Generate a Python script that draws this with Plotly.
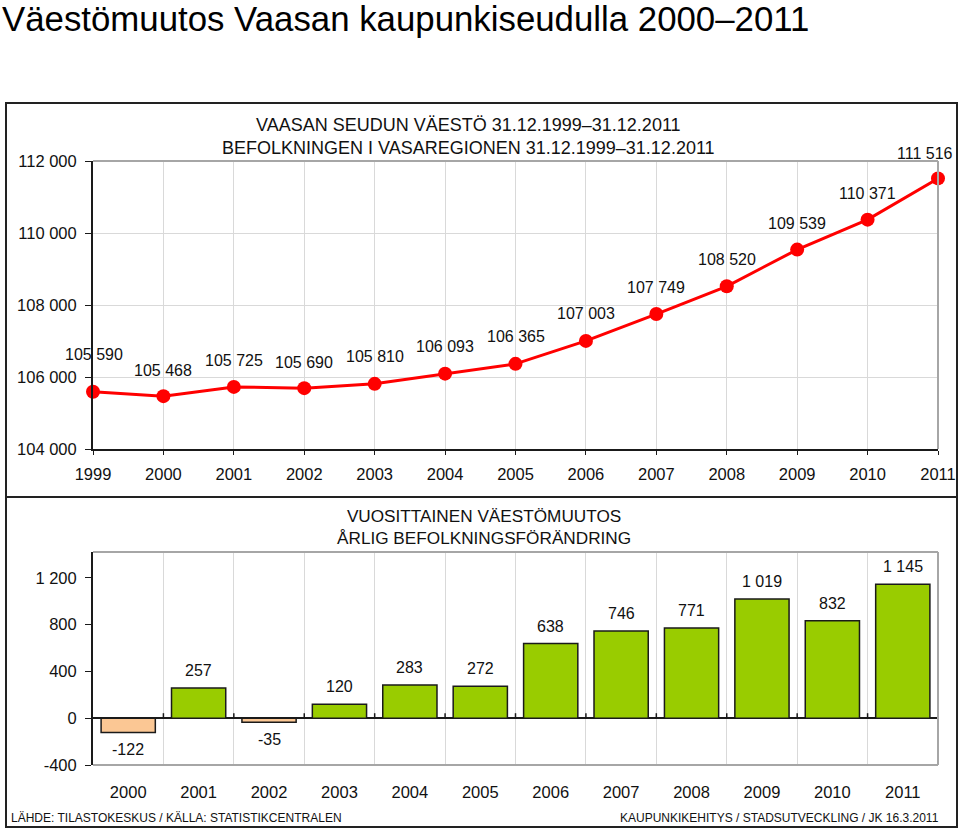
import plotly.graph_objects as go

# ---------------- data ----------------
pop_years = list(range(1999, 2012))
population = [105590, 105468, 105725, 105690, 105810, 106093, 106365,
              107003, 107749, 108520, 109539, 110371, 111516]
pop_labels = ["105 590", "105 468", "105 725", "105 690", "105 810", "106 093", "106 365",
              "107 003", "107 749", "108 520", "109 539", "110 371", "111 516"]

chg_years = list(range(2000, 2012))
change = [-122, 257, -35, 120, 283, 272, 638, 746, 771, 1019, 832, 1145]
chg_labels = ["-122", "257", "-35", "120", "283", "272", "638", "746", "771", "1 019", "832", "1 145"]

pop_ticks = [104000, 106000, 108000, 110000, 112000]
pop_ticktext = ["104 000", "106 000", "108 000", "110 000", "112 000"]
chg_ticks = [-400, 0, 400, 800, 1200]
chg_ticktext = ["-400", "0", "400", "800", "1 200"]

title = "Väestömuutos Vaasan kaupunkiseudulla 2000–2011"
top_title = "VAASAN SEUDUN VÄESTÖ 31.12.1999–31.12.2011<br>BEFOLKNINGEN I VASAREGIONEN 31.12.1999–31.12.2011"
bot_title = "VUOSITTAINEN VÄESTÖMUUTOS<br>ÅRLIG BEFOLKNINGSFÖRÄNDRING"
src_left = "LÄHDE: TILASTOKESKUS / KÄLLA: STATISTIKCENTRALEN"
src_right = "KAUPUNKIKEHITYS / STADSUTVECKLING / JK 16.3.2011"

# ---------------- layout helpers ----------------
W, H = 960, 829
FONT = "Arial, Liberation Sans, sans-serif"
GREEN = "#99CC00"
PEACH = "#FBC794"
GRID = "#D9D9D9"
BORDER = "#A6A6A6"
INK = "#1a1a1a"

def px(xp):
    return xp / W

def py(yp):
    return 1 - yp / H

fig = go.Figure()

# ---- top: population line ----
fig.add_trace(go.Scatter(
    x=pop_years, y=population, mode="lines+markers",
    line=dict(color="#FF0000", width=3),
    marker=dict(color="#FF0000", size=14),
    cliponaxis=False, hoverinfo="x+y", xaxis="x", yaxis="y", showlegend=False))

# ---- bottom: change bars ----
fig.add_trace(go.Bar(
    x=chg_years, y=change, width=0.77,
    marker=dict(color=[GREEN if v >= 0 else PEACH for v in change],
                line=dict(color=INK, width=1.5)),
    xaxis="x2", yaxis="y2", showlegend=False))

bounds = [y + 0.5 for y in chg_years[:-1]]

annotations = []
# population labels
shifts_y = [37, 26, 26, 26, 27, 27, 27, 27, 27, 27, 26, 26, 25]
shifts_x = [1, 0, 0, 0, 0, 0, 0, 0, 0, 0, 0, 0, -13]
for x, y, t, sy, sx in zip(pop_years, population, pop_labels, shifts_y, shifts_x):
    annotations.append(dict(x=x, y=y, xref="x", yref="y", text=t, showarrow=False,
                            yshift=sy, xshift=sx, font=dict(size=16, color="#111", family=FONT)))
# change labels
for x, y, t in zip(chg_years, change, chg_labels):
    annotations.append(dict(x=x, y=y, xref="x2", yref="y2", text=t, showarrow=False,
                            yanchor="bottom" if y >= 0 else "top",
                            yshift=7 if y >= 0 else -7,
                            font=dict(size=16, color="#111", family=FONT)))

annotations += [
    dict(x=0, y=py(18), xref="paper", yref="paper", xanchor="left", yanchor="middle",
         text=title, showarrow=False, font=dict(size=34.8, color="#000", family=FONT)),
    dict(x=px(468), y=py(136), xref="paper", yref="paper", xanchor="center", yanchor="middle",
         text=top_title, showarrow=False, align="center",
         font=dict(size=18, color="#111", family=FONT)),
    dict(x=px(484), y=py(527), xref="paper", yref="paper", xanchor="center", yanchor="middle",
         text=bot_title, showarrow=False, align="center",
         font=dict(size=17.2, color="#111", family=FONT)),
    dict(x=px(9), y=py(818), xref="paper", yref="paper", xanchor="left", yanchor="middle",
         text=src_left, showarrow=False, font=dict(size=12, color="#111", family=FONT)),
    dict(x=px(941), y=py(818), xref="paper", yref="paper", xanchor="right", yanchor="middle",
         text=src_right, showarrow=False, font=dict(size=12, color="#111", family=FONT)),
]

shapes = [
    # outer frame and divider
    dict(type="rect", xref="paper", yref="paper", x0=px(6), x1=px(957), y0=py(827), y1=py(103),
         line=dict(color="#222", width=2)),
    dict(type="line", xref="paper", yref="paper", x0=px(6), x1=px(957), y0=py(497), y1=py(497),
         line=dict(color="#222", width=2)),
    # grey borders of top plot area (top, right)
    dict(type="line", xref="x domain", yref="y domain", x0=0, x1=1, y0=1, y1=1,
         line=dict(color=BORDER, width=2)),
    dict(type="line", xref="x domain", yref="y domain", x0=1, x1=1, y0=0, y1=1,
         line=dict(color=BORDER, width=2)),
    # grey borders of bottom plot area (top, right, bottom)
    dict(type="line", xref="x2 domain", yref="y2 domain", x0=0, x1=1, y0=1, y1=1,
         line=dict(color=BORDER, width=2)),
    dict(type="line", xref="x2 domain", yref="y2 domain", x0=1, x1=1, y0=0, y1=1,
         line=dict(color=BORDER, width=2)),
    dict(type="line", xref="x2 domain", yref="y2 domain", x0=0, x1=1, y0=0, y1=0,
         line=dict(color=BORDER, width=2)),
]
# small upward tick marks on the zero line at category boundaries
for b in bounds:
    shapes.append(dict(type="line", xref="x2", yref="y2", x0=b, x1=b,
                       ysizemode="pixel", yanchor=0, y0=0, y1=5,
                       line=dict(color=INK, width=1.5)))

tickfont = dict(size=16.5, color="#111", family=FONT)

fig.update_layout(
    width=W, height=H,
    margin=dict(l=0, r=0, t=0, b=0, autoexpand=False),
    paper_bgcolor="white", plot_bgcolor="white",
    font=dict(family=FONT, color="#111"),
    showlegend=False,
    annotations=annotations,
    shapes=shapes,
    xaxis=dict(domain=[px(93), px(938)], anchor="y", range=[1999, 2011], automargin=False,
               tickvals=pop_years, ticktext=[str(y) for y in pop_years],
               showgrid=True, gridcolor=GRID, gridwidth=1,
               showline=True, linecolor=INK, linewidth=2,
               ticks="outside", ticklen=4, tickcolor=INK, ticklabelstandoff=5,
               tickfont=tickfont, zeroline=False),
    yaxis=dict(domain=[py(449), py(161)], anchor="x", range=[104000, 112000], automargin=False,
               tickvals=pop_ticks, ticktext=pop_ticktext,
               showgrid=True, gridcolor=GRID, gridwidth=1,
               showline=True, linecolor=INK, linewidth=2,
               ticks="outside", ticklen=6, tickcolor=INK, ticklabelstandoff=5,
               tickfont=tickfont, zeroline=False),
    xaxis2=dict(domain=[px(93), px(938)], anchor="y2", range=[1999.5, 2011.5], automargin=False,
                tickvals=chg_years, ticktext=[str(y) for y in chg_years],
                showgrid=False, showline=False, ticks="", ticklabelstandoff=15,
                minor=dict(tickvals=bounds, showgrid=True, gridcolor=GRID, gridwidth=1, ticks=""),
                tickfont=tickfont, zeroline=False),
    yaxis2=dict(domain=[py(765), py(552)], anchor="x2", range=[-400, 1420], automargin=False,
                tickvals=chg_ticks, ticktext=chg_ticktext,
                showgrid=False,
                showline=True, linecolor=INK, linewidth=2,
                ticks="outside", ticklen=6, tickcolor=INK, ticklabelstandoff=5,
                zeroline=True, zerolinecolor=INK, zerolinewidth=2,
                tickfont=tickfont),
)

fig.write_html("out.html",
               config={"displayModeBar": False},
               post_script="document.body.style.margin='0px';document.body.style.overflow='hidden';")
